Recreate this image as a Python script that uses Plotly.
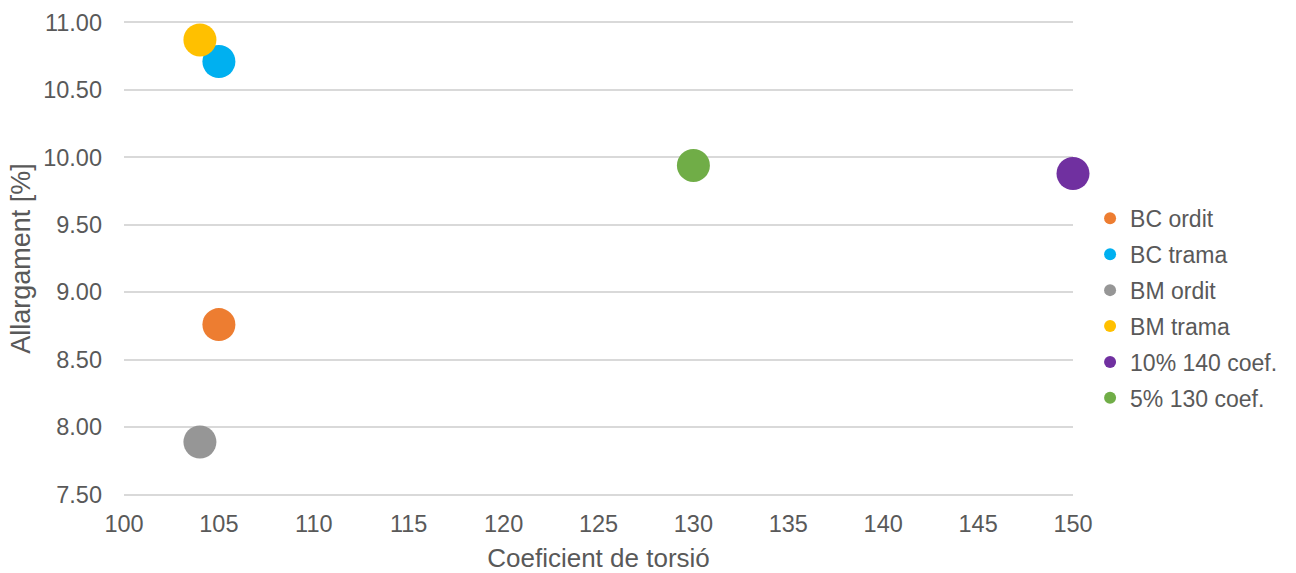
import plotly.graph_objects as go

# Series: name, torsion coefficient, elongation [%], colour
series_names = ["BC ordit", "BC trama", "BM ordit", "BM trama", "10% 140 coef.", "5% 130 coef."]
coef_torsio = [105, 105, 104, 104, 150, 130]
allargament = [8.76, 10.71, 7.89, 10.87, 9.88, 9.94]
colors = ["#ED7D31", "#00B0F0", "#969696", "#FFC000", "#7030A0", "#70AD47"]

y_ticks = [7.5, 8.0, 8.5, 9.0, 9.5, 10.0, 10.5, 11.0]
x_ticks = [100, 105, 110, 115, 120, 125, 130, 135, 140, 145, 150]

text_color = "#595959"
grid_color = "#D9D9D9"
font_family = "Liberation Sans, Arial, sans-serif"

fig = go.Figure()
for name, xv, yv, col in zip(series_names, coef_torsio, allargament, colors):
    fig.add_trace(go.Scatter(
        x=[xv],
        y=[yv],
        mode="markers",
        name=name,
        legendgroup=name,
        cliponaxis=False,
        marker=dict(size=33, color=col, line=dict(width=0)),
    ))

fig.update_layout(
    width=1296,
    height=573,
    margin=dict(l=124, r=223, t=21, b=77),
    paper_bgcolor="white",
    plot_bgcolor="white",
    font=dict(family=font_family, size=23, color=text_color),
    showlegend=True,
    legend=dict(
        x=1.018,
        xanchor="left",
        y=0.395,
        yanchor="middle",
        itemsizing="constant",
        tracegroupgap=3,
        itemwidth=30,
        borderwidth=0,
        font=dict(family=font_family, size=23, color=text_color),
        bgcolor="rgba(0,0,0,0)",
    ),
    xaxis=dict(
        range=[100, 150],
        tickvals=x_ticks,
        ticktext=[str(v) for v in x_ticks],
        tickfont=dict(size=23.5),
        showgrid=False,
        zeroline=False,
        showline=False,
        ticks="",
        automargin=False,
        ticklabelstandoff=11,
        title=dict(text="Coeficient de torsió", font=dict(size=26, color=text_color), standoff=16),
    ),
    yaxis=dict(
        range=[7.49, 11.01],
        tickvals=y_ticks,
        ticktext=[f"{v:.2f}" for v in y_ticks],
        tickfont=dict(size=23.5),
        showgrid=True,
        gridcolor=grid_color,
        gridwidth=1.5,
        zeroline=False,
        showline=False,
        ticks="",
        automargin=False,
        ticklabelstandoff=21,
        title=dict(text="Allargament [%]", font=dict(size=27, color=text_color), standoff=4),
    ),
)

fig.write_html("out.html")
